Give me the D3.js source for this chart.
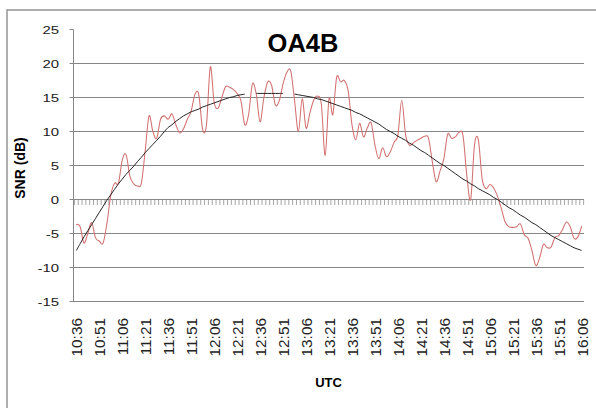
<!DOCTYPE html>
<html><head><meta charset="utf-8">
<script src="https://cdn.jsdelivr.net/npm/d3@7"></script>
<style>html,body{margin:0;padding:0;background:#fff;}svg{display:block;}</style>
</head><body>
<svg id="c" width="596" height="408"></svg>
<script>
const title = "OA4B";
const yLabel = "SNR (dB)";
const xLabel = "UTC";
const tickLabels = ["10:36","10:51","11:06","11:21","11:36","11:51","12:06","12:21","12:36","12:51","13:06","13:21","13:36","13:51","14:06","14:21","14:36","14:51","15:06","15:21","15:36","15:51","16:06"];
const labelEvery = 6;
const yTicks = [25,20,15,10,5,0,-5,-10,-15];
const snr = [
 -3.7,-4.0,-6.4,-5.0,-3.4,-5.6,-6.1,-6.4,-3.5,0.6,
 2.4,2.4,5.8,6.6,3.4,2.3,2.0,2.4,7.2,12.3,
 10.0,9.0,11.8,12.3,11.8,12.6,11.0,9.8,10.4,11.8,
 13.0,15.5,15.4,10.3,11.0,19.5,14.3,13.4,15.0,16.6,
 16.5,16.2,15.6,14.5,11.0,12.5,17.0,15.5,11.4,15.0,
 17.3,16.8,13.9,14.5,17.0,18.7,18.9,14.6,10.0,14.8,
 10.5,12.7,14.6,15.2,14.0,6.5,14.8,12.5,18.0,17.3,
 17.5,16.0,11.0,8.8,11.2,9.2,10.5,11.3,8.0,6.0,
 7.6,6.3,7.0,8.4,9.5,14.6,9.5,8.0,8.3,8.7,
 9.0,9.3,9.0,5.5,2.6,4.2,6.0,9.6,9.0,9.2,
 9.9,9.4,3.5,0.0,8.0,8.8,3.0,1.6,2.2,1.7,
 0.5,-1.3,-3.3,-4.0,-4.1,-4.0,-3.6,-5.2,-5.7,-7.5,
 -9.7,-8.6,-6.6,-7.1,-7.0,-5.6,-5.3,-4.4,-3.3,-4.0,
 -5.7,-5.5,-3.9
];
const model = [
 -7.5,-6.5,-5.5,-4.6,-3.7,-2.8,-1.9,-1.0,-0.1,0.7,
 1.5,2.3,3.0,3.7,4.3,4.9,5.6,6.2,6.9,7.5,
 8.1,8.7,9.3,10.0,10.6,11.0,11.5,11.9,12.3,12.6,
 12.9,13.1,13.3,13.6,13.8,14.0,14.2,14.4,14.6,14.8,
 15.0,15.1,15.3,15.4,15.5,null,null,15.6,15.6,15.6,
 15.6,15.6,15.6,15.6,15.6,null,null,15.5,15.4,15.3,
 15.2,15.1,15.0,14.8,14.7,14.5,14.3,14.1,13.9,13.7,
 13.5,13.3,13.1,12.8,12.6,12.3,12.0,11.7,11.4,11.1,
 10.7,10.3,10.0,9.7,9.3,9.0,8.7,8.3,8.0,7.6,
 7.2,6.9,6.5,6.1,5.7,5.3,5.0,4.6,4.2,3.8,
 3.4,3.0,2.7,2.3,2.0,1.6,1.3,1.0,0.7,0.3,
 0.0,-0.4,-0.8,-1.2,-1.5,-1.9,-2.3,-2.6,-3.0,-3.4,
 -3.7,-4.1,-4.5,-4.9,-5.3,-5.6,-5.9,-6.2,-6.5,-6.8,
 -7.1,-7.3,-7.5
];

const svg = d3.select("#c");
const n = snr.length;
const plotL = 73.5, plotR = 584, plotT = 29.5, plotB = 301.5;
const x = d3.scalePoint().domain(d3.range(n)).range([76.3, 581.7]);
const step = x.step();
const y = d3.scaleLinear().domain([-15, 25]).range([plotB, plotT]);

// outer chart border
svg.append("rect").attr("x", 7).attr("y", 10).attr("width", 620).attr("height", 420)
  .attr("fill", "none").attr("stroke", "#9a9a9a").attr("stroke-width", 1.6);

// gridlines (no line at top value)
svg.append("g").selectAll("line").data(yTicks.filter(v => v !== 25 && v !== 0)).join("line")
  .attr("x1", plotL - 4).attr("x2", plotR)
  .attr("y1", d => y(d)).attr("y2", d => y(d))
  .attr("stroke", "#868686").attr("stroke-width", 1);

// y axis line + tick marks
svg.append("line").attr("x1", plotL).attr("x2", plotL).attr("y1", plotT).attr("y2", plotB)
  .attr("stroke", "#868686").attr("stroke-width", 1);
svg.append("line").attr("x1", plotL - 4).attr("x2", plotL).attr("y1", y(25)).attr("y2", y(25))
  .attr("stroke", "#868686").attr("stroke-width", 1);

// x axis (at 0) with category tick marks
svg.append("line").attr("x1", plotL - 4).attr("x2", plotR).attr("y1", y(0)).attr("y2", y(0))
  .attr("stroke", "#868686").attr("stroke-width", 1);
svg.append("g").selectAll("line").data(d3.range(n + 1)).join("line")
  .attr("x1", i => x(0) + (i - 0.5) * step).attr("x2", i => x(0) + (i - 0.5) * step)
  .attr("y1", y(0)).attr("y2", y(0) + 5.5)
  .attr("stroke", "#9a9a9a").attr("stroke-width", 0.9);

// y tick labels
svg.append("g").selectAll("text").data(yTicks).join("text")
  .attr("transform", d => `translate(59,${y(d)}) scale(1.3,1)`)
  .attr("text-anchor", "end").attr("dy", "0.36em")
  .attr("font-family", "'Liberation Sans', Arial, sans-serif").attr("font-size", 11.5)
  .attr("fill", "#222").text(d => d);

// x tick labels (rotated)
svg.append("g").selectAll("text").data(tickLabels).join("text")
  .attr("transform", (d, k) => `translate(${x(k * labelEvery) + 1},318) rotate(-90) scale(1.1,1)`)
  .attr("text-anchor", "end").attr("dy", "0.36em")
  .attr("font-family", "'Liberation Sans', Arial, sans-serif").attr("font-size", 14)
  .attr("fill", "#222").text(d => d);

// series
const lineGen = d3.line()
  .defined(d => d != null)
  .x((d, i) => x(i)).y(d => y(d))
  .curve(d3.curveCardinal.tension(0));

svg.append("path").datum(snr).attr("d", lineGen)
  .attr("fill", "none").attr("stroke", "#d27070").attr("stroke-width", 1.05);
svg.append("path").datum(model).attr("d", lineGen)
  .attr("fill", "none").attr("stroke", "#1a1a1a").attr("stroke-width", 0.95);

// title and axis titles
svg.append("text").attr("x", 303).attr("y", 51.5).attr("text-anchor", "middle")
  .attr("font-family", "'Liberation Sans', Arial, sans-serif").attr("font-weight", "bold")
  .attr("font-size", 25.5).attr("fill", "#000").text(title);
svg.append("text").attr("transform", "translate(25,168) rotate(-90)")
  .attr("text-anchor", "middle")
  .attr("font-family", "'Liberation Sans', Arial, sans-serif").attr("font-weight", "bold")
  .attr("font-size", 14).attr("fill", "#000").text(yLabel);
svg.append("text").attr("x", 328.5).attr("y", 386.5).attr("text-anchor", "middle")
  .attr("font-family", "'Liberation Sans', Arial, sans-serif").attr("font-weight", "bold")
  .attr("font-size", 13).attr("fill", "#000").text(xLabel);
</script>
</body></html>
